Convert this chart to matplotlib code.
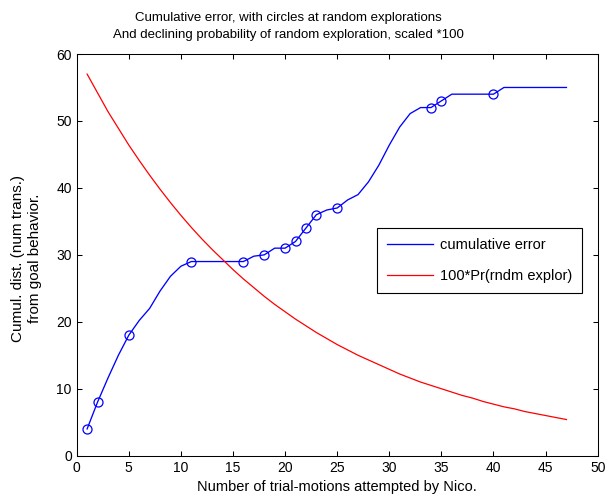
import matplotlib
matplotlib.use("Agg")
import matplotlib.pyplot as plt

plt.rcParams['font.family'] = ['Liberation Sans', 'DejaVu Sans']

trials = list(range(1, 48))
cumulative_error = [4, 8, 11.6, 15, 18, 20.2, 22, 24.6, 26.8, 28.3,
                    29, 29, 29, 29, 29, 29, 29.8, 30, 31, 31,
                    32, 34, 36, 36.7, 37, 38.2, 39, 40.9, 43.4, 46.4,
                    49.1, 51.1, 52, 52, 53, 54, 54, 54, 54, 54,
                    55, 55, 55, 55, 55, 55, 55]
explore_trials = [1, 2, 5, 11, 16, 18, 20, 21, 22, 23, 25, 34, 35, 40]
prob_explore_x100 = [57.0, 54.2, 51.4, 48.9, 46.4, 44.1, 41.9, 39.8, 37.8, 35.9,
                     34.1, 32.4, 30.8, 29.3, 27.8, 26.4, 25.1, 23.8, 22.6, 21.5,
                     20.4, 19.4, 18.4, 17.5, 16.6, 15.8, 15.0, 14.3, 13.6, 12.9,
                     12.2, 11.6, 11.0, 10.5, 10.0, 9.5, 9.0, 8.6, 8.1, 7.7,
                     7.3, 7.0, 6.6, 6.3, 6.0, 5.7, 5.4]

explore_err = [cumulative_error[trials.index(t)] for t in explore_trials]

W, H = 607, 497
fig = plt.figure(figsize=(W / 100, H / 100), dpi=100)
ax = fig.add_axes([76.7 / W, 1 - 455.7 / H, (597.7 - 76.7) / W, (455.7 - 54) / H])

ax.plot(trials, cumulative_error, color=(0, 0, 1), lw=0.95, label='cumulative error')
ax.plot(trials, prob_explore_x100, color=(1, 0, 0), lw=0.9, label='100*Pr(rndm explor)')
ax.plot(explore_trials, explore_err, linestyle='none', marker='o', ms=6.5,
        mfc='none', mec=(0, 0, 1), mew=0.9)

ax.set_xlim(0, 50)
ax.set_ylim(0, 60)
ax.set_xticks(range(0, 51, 5))
ax.set_yticks(range(0, 61, 10))
ax.tick_params(direction='in', length=3.6, width=0.75, top=True, right=True,
               labelsize=10, pad=3.5, colors='black')
for s in ax.spines.values():
    s.set_linewidth(0.75)
    s.set_color('black')

fig.text((76.7 + 597.7) / 2 / W, 1 - 487 / H, 'Number of trial-motions attempted by Nico.',
         ha='center', va='center', fontsize=10.5)
fig.text(26.5 / W, 1 - 258 / H, 'Cumul. dist. (num trans.)\nfrom goal behavior.',
         ha='center', va='center', rotation=90, fontsize=11,
         multialignment='center', linespacing=1.25)

fig.text(288 / W, 1 - 18 / H, 'Cumulative error, with circles at random explorations',
         ha='center', va='center', fontsize=9.5)
fig.text(288 / W, 1 - 35 / H, 'And declining probability of random exploration, scaled *100',
         ha='center', va='center', fontsize=9.5)

leg = ax.legend(loc='upper left', bbox_to_anchor=(0.577, 0.566), fontsize=10.5,
                frameon=True, fancybox=False, framealpha=1, edgecolor='black',
                handlelength=3.2, handletextpad=0.46, labelspacing=1.2,
                borderpad=0.64, borderaxespad=0)
leg.get_frame().set_linewidth(0.8)

fig.savefig('out.png', dpi=100)
